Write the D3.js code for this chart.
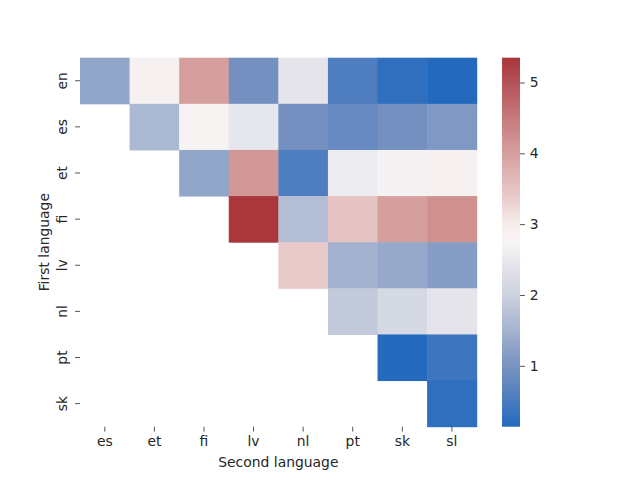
<!DOCTYPE html>
<html lang="en">
<head>
<meta charset="UTF-8">
<title>Language pair heatmap</title>
<script src="https://d3js.org/d3.v7.min.js"></script>
<style>
  body { margin: 0; background: #fff; }
  text { font-family: "DejaVu Sans", sans-serif; fill: #262626; }
</style>
</head>
<body>
<svg id="chart"></svg>
<script>
// row / column labels
const firstLangs = ["en", "es", "et", "fi", "lv", "nl", "pt", "sk"];
const secondLangs = ["es", "et", "fi", "lv", "nl", "pt", "sk", "sl"];

// upper-triangle values, one list per row (null = masked)
const en = [1.30, 2.88, 4.00, 0.95, 2.40, 0.55, 0.25, 0.14];
const es = [null, 1.60, 2.78, 2.45, 0.95, 0.80, 0.95, 1.10];
const et = [null, null, 1.30, 4.10, 0.55, 2.55, 2.70, 2.88];
const fi = [null, null, null, 5.35, 1.70, 3.50, 4.00, 4.20];
const lv = [null, null, null, null, 3.40, 1.50, 1.35, 1.15];
const nl = [null, null, null, null, null, 1.85, 2.15, 2.40];
const pt = [null, null, null, null, null, null, 0.15, 0.40];
const sk = [null, null, null, null, null, null, null, 0.25];
const rows = [en, es, et, fi, lv, nl, pt, sk];

const colorTicks = [1, 2, 3, 4, 5];

const width = 640, height = 480;
const plot = { left: 80, right: 476.7, top: 57.7, bottom: 426.7 };
const cbar = { left: 502, right: 520 };

const svg = d3.select("#chart").attr("width", width).attr("height", height);

const cells = [];
rows.forEach((vals, i) => vals.forEach((v, j) => {
  if (v !== null) cells.push({ row: firstLangs[i], col: secondLangs[j], value: v });
}));

const vmin = d3.min(cells, d => d.value);
const vmax = d3.max(cells, d => d.value);

// rough stand-in for seaborn "vlag"
const vlag = d3.scaleLinear()
  .domain([0, 0.08, 0.166, 0.26, 0.357, 0.5, 0.55, 0.61, 0.742, 0.85, 0.934, 1])
  .range(["#2369bd", "#4f7ebf", "#7893c1", "#a3b2cf", "#cdd2df", "#f7f4f4",
          "#f6eeed", "#ebd0cf", "#d59f9e", "#c47476", "#b45159", "#a9373b"])
  .interpolate(d3.interpolateRgb);
const color = d3.scaleSequential(vlag).domain([vmin, vmax]);

const x = d3.scaleBand().domain(secondLangs).range([plot.left, plot.right]);
const y = d3.scaleBand().domain(firstLangs).range([plot.top, plot.bottom]);

svg.append("g").selectAll("rect")
  .data(cells)
  .join("rect")
  .attr("x", d => x(d.col))
  .attr("y", d => y(d.row))
  .attr("width", x.bandwidth() + 0.5)
  .attr("height", y.bandwidth() + 0.5)
  .attr("fill", d => color(d.value));

const tickSize = 4.9, tickPad = 4.9;

const xAxis = svg.append("g")
  .attr("transform", `translate(0,${plot.bottom})`)
  .call(d3.axisBottom(x).tickSize(tickSize).tickPadding(tickPad));
xAxis.select(".domain").remove();

const yAxis = svg.append("g")
  .attr("transform", `translate(${plot.left},0)`)
  .call(d3.axisLeft(y).tickSize(tickSize).tickPadding(tickPad));
yAxis.select(".domain").remove();
yAxis.selectAll("text")
  .attr("x", null).attr("dy", null)
  .attr("text-anchor", "middle")
  .attr("transform", "translate(-13.5,0) rotate(-90)");

svg.selectAll(".tick line").attr("stroke", "#262626").attr("stroke-width", 0.8);
svg.selectAll(".tick text")
  .style("font-family", "DejaVu Sans, sans-serif")
  .style("font-size", "13.9px").attr("fill", "#262626");

// axis labels
svg.append("text")
  .attr("x", (plot.left + plot.right) / 2).attr("y", 467)
  .attr("text-anchor", "middle").style("font-size", "13.9px")
  .text("Second language");
svg.append("text")
  .attr("transform", `translate(48.5,${(plot.top + plot.bottom) / 2}) rotate(-90)`)
  .attr("text-anchor", "middle").style("font-size", "13.9px")
  .text("First language");

// colorbar
const cy = d3.scaleLinear().domain([vmin, vmax]).range([plot.bottom, plot.top]);
const defs = svg.append("defs");
const grad = defs.append("linearGradient").attr("id", "cbar-grad")
  .attr("x1", 0).attr("y1", 1).attr("x2", 0).attr("y2", 0);
d3.range(0, 1.0001, 0.02).forEach(t => {
  grad.append("stop").attr("offset", t).attr("stop-color", vlag(t));
});
svg.append("rect")
  .attr("x", cbar.left).attr("y", plot.top)
  .attr("width", cbar.right - cbar.left).attr("height", plot.bottom - plot.top)
  .attr("fill", "url(#cbar-grad)");

const cAxis = svg.append("g")
  .attr("transform", `translate(${cbar.right},0)`)
  .call(d3.axisRight(cy).tickValues(colorTicks).tickFormat(d3.format("d"))
    .tickSize(tickSize).tickPadding(tickPad));
cAxis.select(".domain").remove();
cAxis.selectAll(".tick line").attr("stroke", "#262626").attr("stroke-width", 0.8);
cAxis.selectAll(".tick text")
  .style("font-family", "DejaVu Sans, sans-serif")
  .style("font-size", "13.9px").attr("fill", "#262626");
</script>
</body>
</html>
